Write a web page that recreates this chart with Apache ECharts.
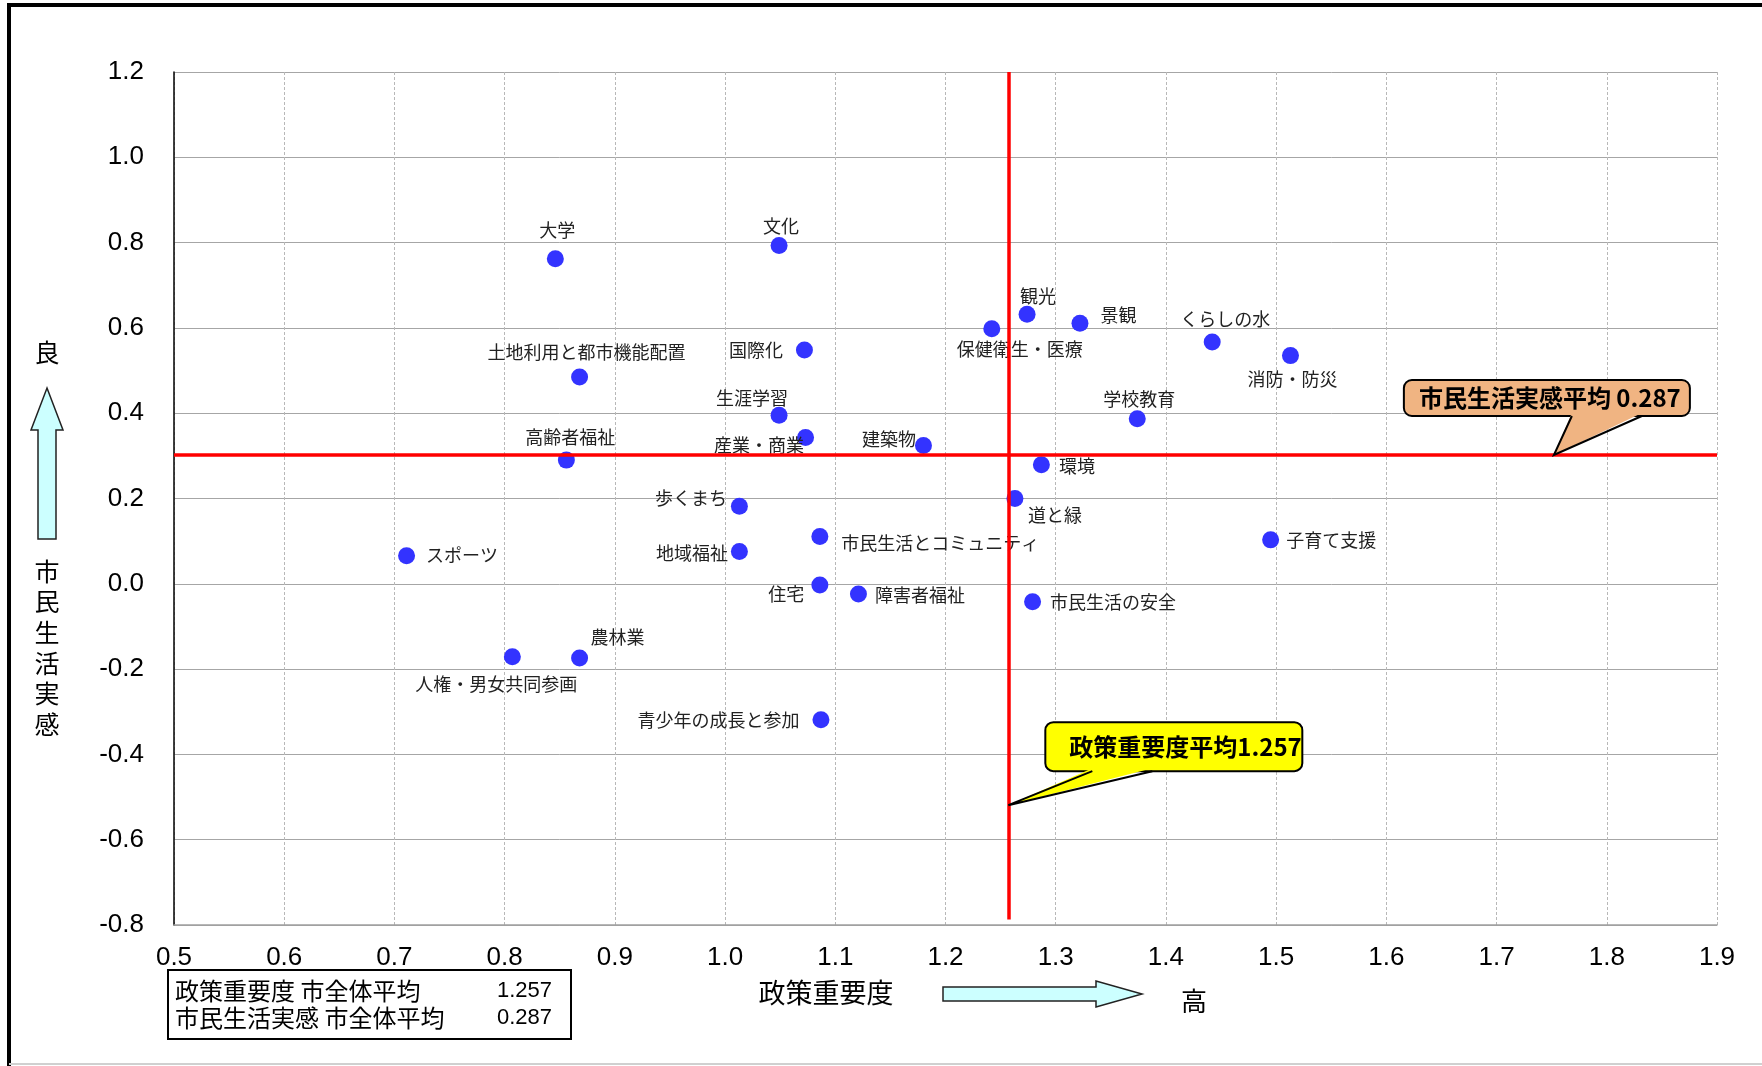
<!DOCTYPE html>
<html><head><meta charset="utf-8">
<script src="https://cdn.jsdelivr.net/npm/echarts@6/dist/echarts.min.js"></script>
<style>html,body{margin:0;padding:0;background:#fff}#c{width:1762px;height:1066px}</style>
</head><body><div id="c"></div>
<script>
// ---- data ----
const names = ['大学','文化','観光','景観','保健衛生・医療','くらしの水','消防・防災','国際化','土地利用と都市機能配置','生涯学習','学校教育','産業・商業','建築物','高齢者福祉','環境','道と緑','歩くまち','市民生活とコミュニティ','子育て支援','地域福祉','スポーツ','住宅','障害者福祉','市民生活の安全','人権・男女共同参画','農林業','青少年の成長と参加'];
const importance = [0.846,1.049,1.274,1.322,1.242,1.442,1.513,1.072,0.868,1.049,1.374,1.073,1.180,0.856,1.287,1.263,1.013,1.086,1.495,1.013,0.711,1.086,1.121,1.279,0.807,0.868,1.087];
const satisfaction = [0.762,0.793,0.632,0.611,0.598,0.567,0.535,0.548,0.485,0.395,0.387,0.343,0.324,0.290,0.279,0.200,0.182,0.111,0.103,0.076,0.066,-0.003,-0.024,-0.042,-0.171,-0.174,-0.319];
const avgImportance = 1.257;
const avgSatisfaction = 0.287;
const avgSatisfactionLineY = 0.302; // where the reference draws the line
const xRange = [0.5, 1.9], xStep = 0.1;
const yRange = [-0.8, 1.2], yStep = 0.2;
const summaryRows = [['政策重要度 市全体平均', '1.257'], ['市民生活実感 市全体平均', '0.287']];

// ---- label placement (layout, not data) ----
const labelLayout = {
 '大学':['top',2,-6],'文化':['top',2,3],'観光':['top',11,4],'景観':['right',7,-8],
 '保健衛生・医療':['bottom',28,-2],'くらしの水':['top',13,0],'消防・防災':['bottom',2,1],
 '国際化':['left',-8,0],'土地利用と都市機能配置':['top',7,-2],'生涯学習':['top',-27,5],
 '学校教育':['top',2,3],'産業・商業':['left',12,8],'建築物':['left',6,-6],'高齢者福祉':['top',4,0],
 '環境':['right',4,1],'道と緑':['bottom',40,-6],'歩くまち':['left',1,-8],'市民生活とコミュニティ':['right',8,7],
 '子育て支援':['right',2,0],'地域福祉':['left',2,2],'スポーツ':['right',6,0],'住宅':['left',-2,9],
 '障害者福祉':['right',3,1],'市民生活の安全':['right',4,0],'人権・男女共同参画':['bottom',-16,5],
 '農林業':['top',38,2],'青少年の成長と参加':['left',-8,0]
};

const JP = '"Noto Sans CJK JP", sans-serif';
const NUM = '"Liberation Sans", Arial, sans-serif';

const points = names.map((n, i) => {
  const l = labelLayout[n];
  return { name: n, value: [importance[i], satisfaction[i]],
    label: { position: l[0], offset: [l[1], l[2]] } };
});

const chart = echarts.init(document.getElementById('c'));

const staticGraphics = [
  // outer frame
  { type:'line', shape:{x1:7,y1:5,x2:1762,y2:5}, style:{stroke:'#000',lineWidth:4}, silent:true },
  { type:'line', shape:{x1:9,y1:3,x2:9,y2:1066}, style:{stroke:'#000',lineWidth:4}, silent:true },
  { type:'line', shape:{x1:9,y1:1064,x2:1762,y2:1064}, style:{stroke:'#d0d0d0',lineWidth:2}, silent:true },
  // left axis title
  { type:'text', x:47, y:352, style:{text:'良', font:'25px '+JP, fill:'#000', align:'center', verticalAlign:'middle'} },
  { type:'polygon', shape:{points:[[47,388],[63,430],[56,430],[56,539],[38,539],[38,430],[31,430]]},
    style:{fill:'#ccffff', stroke:'#222', lineWidth:1.5} },
  { type:'text', x:47, y:556, style:{text:'市\n民\n生\n活\n実\n感', font:'25px '+JP, lineHeight:30.6, fill:'#000', align:'center', verticalAlign:'top'} },
  // bottom axis title
  { type:'text', x:826, y:993, style:{text:'政策重要度', font:'27px '+JP, fill:'#000', align:'center', verticalAlign:'middle'} },
  { type:'polygon', shape:{points:[[943,987],[1096,987],[1096,981],[1142,994],[1096,1007],[1096,1001],[943,1001]]},
    style:{fill:'#ccffff', stroke:'#222', lineWidth:1.5} },
  { type:'text', x:1194, y:1001, style:{text:'高', font:'26px '+JP, fill:'#000', align:'center', verticalAlign:'middle'} },
  // summary box
  { type:'rect', shape:{x:168,y:970,width:403,height:69}, style:{fill:'#fff', stroke:'#000', lineWidth:2} },
  { type:'text', x:175, y:991, style:{text:summaryRows[0][0], font:'24px '+JP, fill:'#000', align:'left', verticalAlign:'middle'} },
  { type:'text', x:552, y:991, style:{text:summaryRows[0][1], font:'22px '+NUM, fill:'#000', align:'right', verticalAlign:'middle'} },
  { type:'text', x:175, y:1018, style:{text:summaryRows[1][0], font:'24px '+JP, fill:'#000', align:'left', verticalAlign:'middle'} },
  { type:'text', x:552, y:1018, style:{text:summaryRows[1][1], font:'22px '+NUM, fill:'#000', align:'right', verticalAlign:'middle'} }
];

chart.setOption({
  backgroundColor:'#fff',
  animation:false,
  grid:{left:174, right:45, top:72, bottom:141},
  xAxis:{ type:'value', min:xRange[0], max:xRange[1], interval:xStep,
    axisLine:{show:true, onZero:false, lineStyle:{color:'#a0a0a0', width:1.5}},
    axisTick:{show:false},
    axisLabel:{margin:20, fontSize:26, color:'#000', fontFamily:NUM, formatter:v=>v.toFixed(1)},
    splitLine:{show:true, lineStyle:{color:'#b8b8b8', width:1, type:[3,2]}} },
  yAxis:{ type:'value', min:yRange[0], max:yRange[1], interval:yStep,
    axisLine:{show:true, onZero:false, lineStyle:{color:'#000', width:1.5}},
    axisTick:{show:false},
    axisLabel:{margin:30, fontSize:26, color:'#000', fontFamily:NUM, formatter:v=>v.toFixed(1)},
    splitLine:{show:true, lineStyle:{color:'#a6a6a6', width:1}} },
  series:[
    { type:'scatter', z:2, symbolSize:17, itemStyle:{color:'#3333ff', opacity:1},
      label:{show:true, formatter:'{b}', fontSize:18, color:'#222', fontFamily:JP},
      data:points },
    { type:'scatter', z:4, data:[], silent:true,
      markLine:{ silent:true, symbol:['none','none'], label:{show:false},
        lineStyle:{color:'#ff0000', width:3.5, type:'solid'},
        data:[
          [{coord:[avgImportance, yRange[1]]},{coord:[avgImportance, -0.787]}],
          [{coord:[xRange[0], avgSatisfactionLineY]},{coord:[xRange[1], avgSatisfactionLineY]}]
        ] } }
  ],
  graphic: staticGraphics
});

function callout(tip, box, baseX1, baseX2, fill, text, textDx) {
  const by = box.y + box.h;
  return [
    { type:'rect', z:10, shape:{x:box.x, y:box.y, width:box.w, height:box.h, r:8}, style:{fill:fill, stroke:'#000', lineWidth:2} },
    { type:'polygon', z:11, shape:{points:[[baseX1, by-3],[baseX2, by-3],tip]}, style:{fill:fill} },
    { type:'polyline', z:12, shape:{points:[[baseX1, by],tip,[baseX2, by]]}, style:{stroke:'#000', lineWidth:2, fill:null} },
    { type:'text', z:13, x:box.x+textDx, y:box.y+box.h/2, style:{text:text, font:'bold 24px '+JP, fill:'#000', align:'left', verticalAlign:'middle'} }
  ];
}
const tipO = chart.convertToPixel({gridIndex:0}, [1.752, avgSatisfactionLineY]);
const tipY = chart.convertToPixel({gridIndex:0}, [avgImportance, -0.519]);
const calloutEls = [].concat(
  callout(tipO, {x:tipO[0]-150, y:tipO[1]-75, w:286, h:36}, tipO[0]+18, tipO[0]+88, '#f0b482', '市民生活実感平均 ' + avgSatisfaction.toFixed(3), 15),
  callout(tipY, {x:tipY[0]+37, y:tipY[1]-83, w:257, h:49}, tipY[0]+84, tipY[0]+144, '#ffff00', '政策重要度平均' + avgImportance.toFixed(3), 24)
);
chart.setOption({graphic: staticGraphics.concat(calloutEls)});
</script></body></html>
